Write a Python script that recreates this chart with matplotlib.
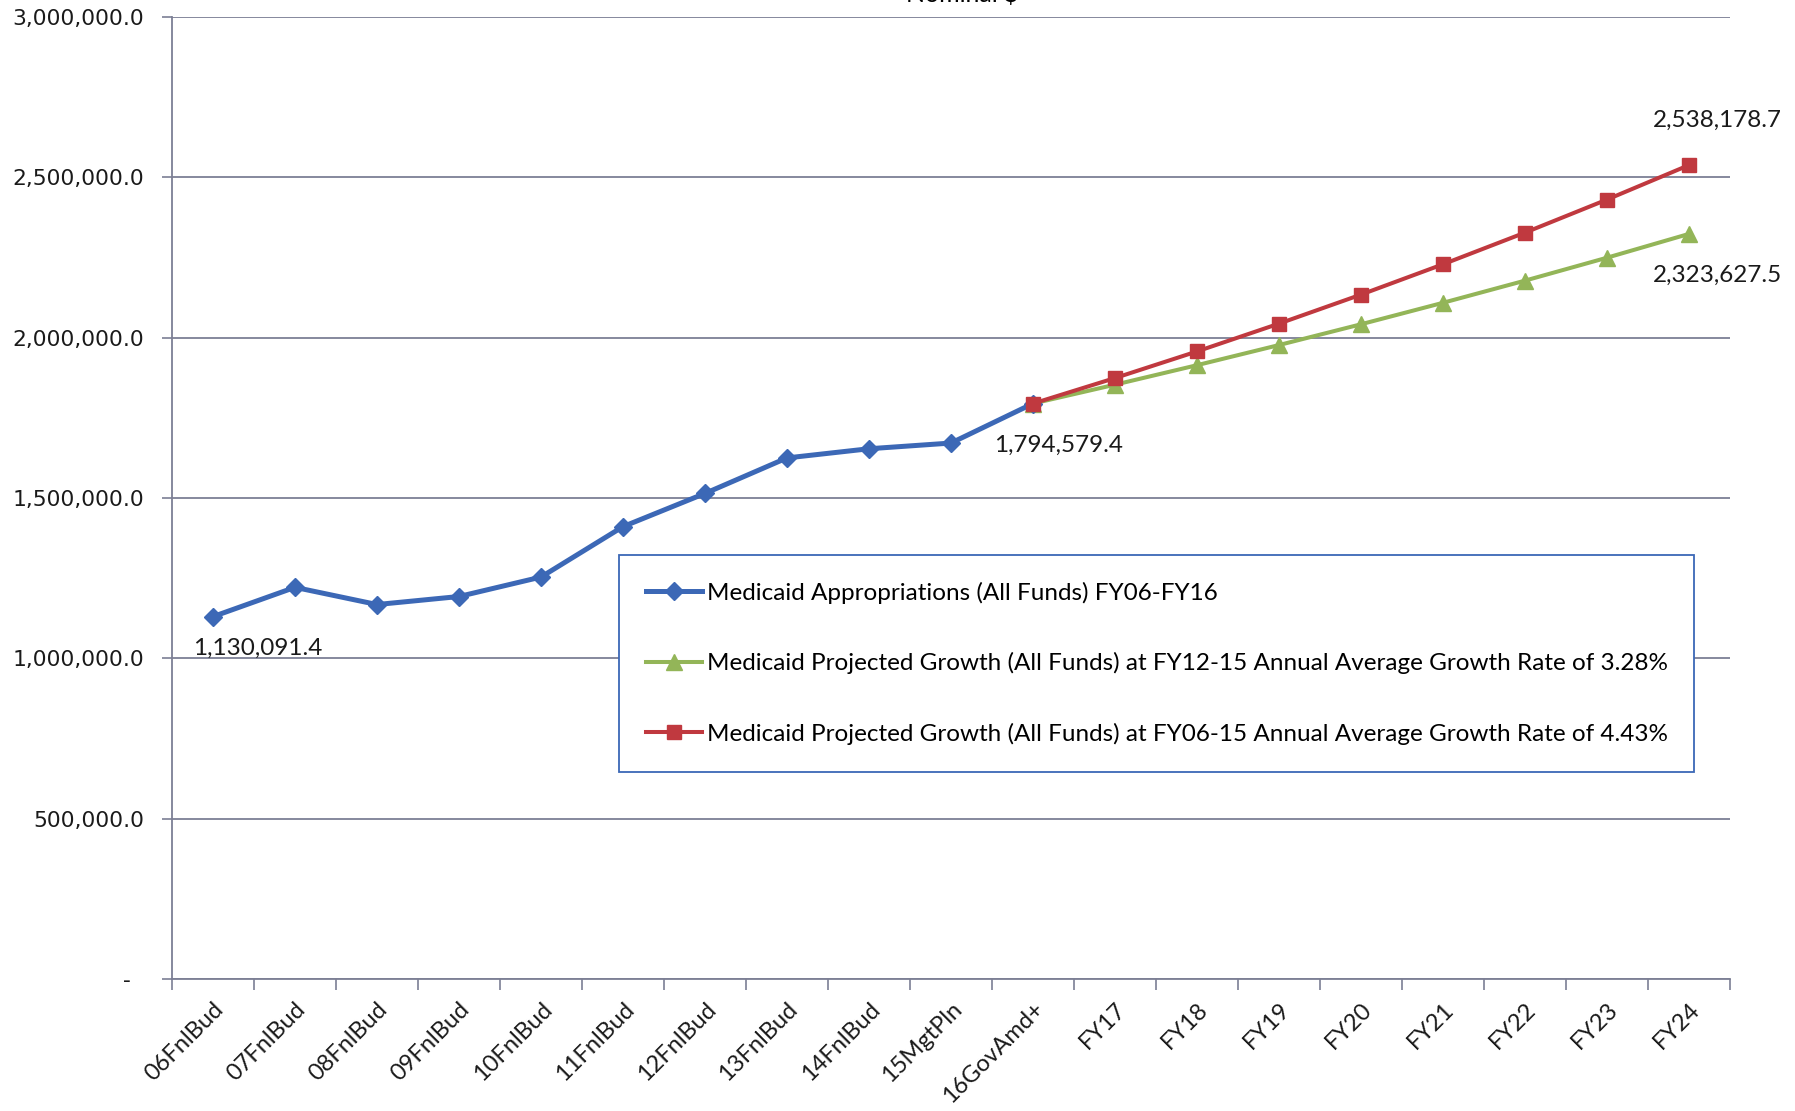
import matplotlib
matplotlib.use("Agg")
import matplotlib.pyplot as plt
from matplotlib.ticker import FuncFormatter, FixedLocator

# --- data -----------------------------------------------------------------
CATEGORIES = ["06FnlBud", "07FnlBud", "08FnlBud", "09FnlBud", "10FnlBud", "11FnlBud",
              "12FnlBud", "13FnlBud", "14FnlBud", "15MgtPln", "16GovAmd+",
              "FY17", "FY18", "FY19", "FY20", "FY21", "FY22", "FY23", "FY24"]

ACTUAL = [1130091.4, 1221400, 1167800, 1192800, 1253500, 1410700,
          1514300, 1625000, 1653600, 1671400, 1794579.4]

# projections start at 16GovAmd+ (index 10)
PROJ_LOW = [1794579.4, 1853400, 1914200, 1977000, 2041800, 2108800,
            2177900, 2249400, 2323627.5]
PROJ_HIGH = [1794579.4, 1874100, 1957100, 2043800, 2134300, 2228900,
             2327600, 2430700, 2538178.7]

LABELS = ["Medicaid Appropriations (All Funds) FY06-FY16",
          "Medicaid Projected Growth (All Funds) at FY12-15 Annual Average Growth Rate of 3.28%",
          "Medicaid Projected Growth (All Funds) at FY06-15 Annual Average Growth Rate of 4.43%"]

BLUE = "#3c68b6"
GREEN = "#93b558"
RED = "#c0393f"
GRID = "#7c7f95"
TXT_FONT = ["Lato", "DejaVu Sans"]


def y_fmt(v, _pos):
    if abs(v) < 1:
        return "-  "
    return f"{v:,.1f}"


def main():
    fig = plt.figure(figsize=(17.95, 11.11), dpi=100)
    ax = fig.add_axes([0.0958, 0.1188, 0.8680, 0.8659])

    x_act = list(range(len(ACTUAL)))
    x_proj = list(range(len(ACTUAL) - 1, len(CATEGORIES)))

    ax.plot(x_act, ACTUAL, color=BLUE, lw=3.6, marker="D", ms=9, mec=BLUE,
            label=LABELS[0], zorder=4)
    ax.plot(x_proj, PROJ_LOW, color=GREEN, lw=2.9, marker="^", ms=11, mec=GREEN,
            label=LABELS[1], zorder=3)
    ax.plot(x_proj, PROJ_HIGH, color=RED, lw=2.9, marker="s", ms=10, mec=RED,
            label=LABELS[2], zorder=5)

    # data labels
    lab_kw = dict(textcoords="offset points", fontsize=17.5, family=TXT_FONT, color="#1a1a1a")
    ax.annotate(f"{ACTUAL[0]:,.1f}", (x_act[0], ACTUAL[0]), xytext=(-14.5, -23),
                ha="left", va="center", **lab_kw)
    ax.annotate(f"{ACTUAL[-1]:,.1f}", (x_act[-1], ACTUAL[-1]), xytext=(-28, -30),
                ha="left", va="center", **lab_kw)
    ax.annotate(f"{PROJ_HIGH[-1]:,.1f}", (x_proj[-1], PROJ_HIGH[-1]), xytext=(-26, 32),
                ha="left", va="center", **lab_kw)
    ax.annotate(f"{PROJ_LOW[-1]:,.1f}", (x_proj[-1], PROJ_LOW[-1]), xytext=(-26, -30),
                ha="left", va="center", **lab_kw)

    # axes
    ax.set_xlim(-0.5, len(CATEGORIES) - 0.5)
    ax.set_ylim(0, 3000000)
    ax.set_yticks([0, 500000, 1000000, 1500000, 2000000, 2500000, 3000000])
    ax.yaxis.set_major_formatter(FuncFormatter(y_fmt))
    ax.yaxis.grid(True, color=GRID, lw=1.3)
    ax.set_axisbelow(True)
    ax.tick_params(axis="y", labelsize=15.7, length=7, width=1.2, color=GRID, pad=13,
                   labelcolor="#1a1a1a")

    ax.set_xticks(range(len(CATEGORIES)))
    ax.set_xticklabels(CATEGORIES, rotation=45, ha="right", rotation_mode="anchor",
                       family=TXT_FONT, fontsize=17, color="#1a1a1a")
    ax.tick_params(axis="x", which="major", length=0, pad=14)
    ax.xaxis.set_minor_locator(FixedLocator([i - 0.5 for i in range(len(CATEGORIES) + 1)]))
    ax.tick_params(axis="x", which="minor", length=8, width=1.2, color=GRID)

    for side in ("top", "right"):
        ax.spines[side].set_visible(False)
    for side in ("left", "bottom"):
        ax.spines[side].set_color(GRID)
        ax.spines[side].set_linewidth(1.3)

    leg = ax.legend(loc="upper left", bbox_to_anchor=(0.287, 0.441),
                    prop={"family": TXT_FONT, "size": 17.5}, frameon=True, fancybox=False,
                    edgecolor=BLUE, framealpha=1, labelspacing=2.0, handlelength=2.3,
                    handletextpad=0.2, borderpad=1.1, borderaxespad=0)
    leg.get_frame().set_linewidth(1.3)

    # chart title, cut off at the top edge in the source
    fig.text(0.536, 0.9985, "Nominal $", ha="center", va="baseline", fontsize=18,
             family=TXT_FONT)

    fig.savefig("out.png", dpi=100)
    plt.close(fig)


if __name__ == "__main__":
    main()
